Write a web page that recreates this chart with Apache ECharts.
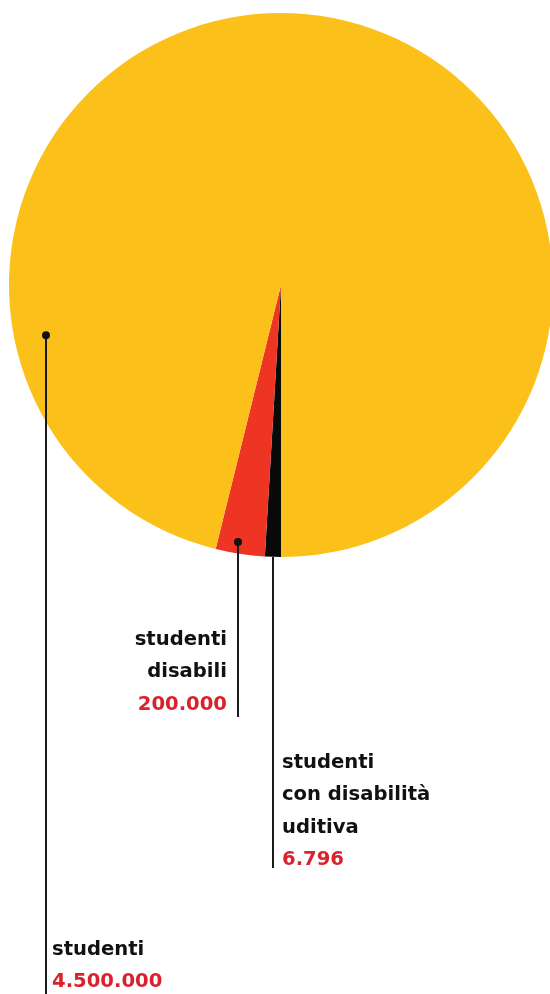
<!DOCTYPE html>
<html><head><meta charset="utf-8">
<script src="https://cdn.jsdelivr.net/npm/echarts@6/dist/echarts.min.js"></script>
<style>html,body{margin:0;padding:0;background:#fff}#c{width:550px;height:994px}</style>
</head><body><div id="c"></div>
<script>
// ---- data ----
const categories = ['studenti con disabilità uditiva', 'studenti disabili', 'studenti'];
const labelLines = [['studenti', 'con disabilità', 'uditiva'], ['studenti', 'disabili'], ['studenti']];
const valueLabels = ['6.796', '200.000', '4.500.000'];
// slice sizes as drawn in the picture (degrees of the circle)
const sliceShares = [3.4, 10.5, 346.1];

// ---- styles / layout ----
const sliceColors = ['#0a0a0a', '#EE3524', '#FBC11A'];
const CX = 281, CY = 285, R = 272;
const anchors = [
  { angFrac: 0.5,   rFrac: 1.0,   dot: false, lineEnd: 868, side: 'right', gap: 9,  firstY: 763 },
  { angFrac: 0.58,  rFrac: 0.958, dot: true,  lineEnd: 717, side: 'left',  gap: 11, firstY: 640 },
  { angFrac: 0.185, rFrac: 0.884, dot: true,  lineEnd: 994, side: 'right', gap: 6,  firstY: 950 }
];
const FONT = '"DejaVu Sans", sans-serif';
const FS = 19.6, LH = 32.3;

const chart = echarts.init(document.getElementById('c'), null, { renderer: 'canvas' });
chart.setOption({
  animation: false,
  series: [{
    type: 'pie',
    center: [CX, CY],
    radius: [0, R],
    startAngle: 270,
    clockwise: true,
    label: { show: false },
    labelLine: { show: false },
    emphasis: { disabled: true },
    data: categories.map((n, i) => ({ name: n, value: sliceShares[i], itemStyle: { color: sliceColors[i] } }))
  }]
});

function layoutOf(i) {
  try {
    const d = chart.getModel().getSeriesByIndex(0).getData();
    const l = d.getItemLayout(i);
    if (l && isFinite(l.startAngle)) return l;
  } catch (e) {}
  const tot = sliceShares.reduce((a, b) => a + b, 0);
  let s = -270 * Math.PI / 180;
  for (let k = 0; k < i; k++) s += sliceShares[k] / tot * Math.PI * 2;
  return { cx: CX, cy: CY, r: R, startAngle: s, endAngle: s + sliceShares[i] / tot * Math.PI * 2 };
}

const g = [];
anchors.forEach((a, i) => {
  const l = layoutOf(i);
  const ang = l.startAngle + a.angFrac * (l.endAngle - l.startAngle);
  const x = l.cx + l.r * a.rFrac * Math.cos(ang);
  const y = l.cy + l.r * a.rFrac * Math.sin(ang);
  const lx = Math.round(x);
  g.push({ type: 'line', shape: { x1: lx, y1: y, x2: lx, y2: a.lineEnd }, style: { stroke: '#1a1a1a', lineWidth: 2 }, z: 10 });
  if (a.dot) g.push({ type: 'circle', shape: { cx: lx, cy: y, r: 4 }, style: { fill: '#111' }, z: 11 });
  const lines = labelLines[i].concat([valueLabels[i]]);
  lines.forEach((t, k) => {
    const isVal = k === lines.length - 1;
    g.push({
      type: 'text', z: 12,
      x: a.side === 'right' ? lx + a.gap : lx - a.gap,
      y: a.firstY + k * LH,
      style: {
        text: t, fill: isVal ? '#D9222D' : '#111',
        font: '700 ' + FS + 'px ' + FONT,
        align: a.side === 'right' ? 'left' : 'right',
        verticalAlign: 'middle'
      }
    });
  });
});
chart.setOption({ graphic: { elements: g } });
</script></body></html>
